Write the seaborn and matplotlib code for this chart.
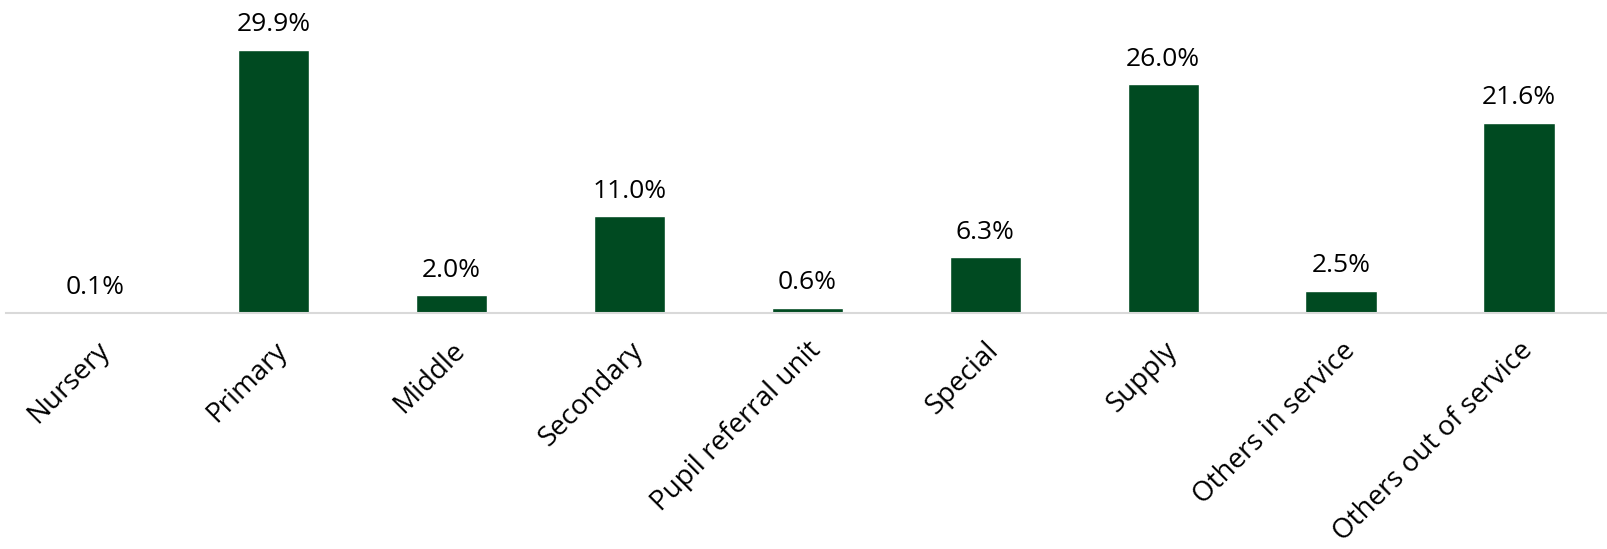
import matplotlib
matplotlib.use("Agg")
import matplotlib.pyplot as plt
import seaborn as sns
import pandas as pd

#categories and their shares (%)
categories = ['Nursery', 'Primary', 'Middle', 'Secondary', 'Pupil referral unit',
              'Special', 'Supply', 'Others in service', 'Others out of service']
values = [0.1, 29.9, 2.0, 11.0, 0.6, 6.3, 26.0, 2.5, 21.6]

df = pd.DataFrame({'category': categories, 'value': values})

sns.set_style("white")
plt.rcParams['font.family'] = ['Open Sans', 'DejaVu Sans']

fig = plt.figure(figsize=(16.08, 5.49), dpi=100)
ax = fig.add_axes([0.004, 0.43, 0.996, 0.481])

sns.barplot(data=df, x='category', y='value', color='#004a21', width=0.4,
            saturation=1, ax=ax)

#value labels above bars
for i, v in enumerate(values):
    ax.annotate('{:.1f}%'.format(v), (i, v), xytext=(0, 9), textcoords='offset points',
                ha='center', va='bottom', fontsize=19, color='black')

ax.set_ylim(0, 30)
ax.set_xlim(-0.5, len(categories) - 0.5)
ax.set_xlabel('')
ax.set_ylabel('')
ax.set_yticks([])
for s in ['top', 'right', 'left']:
    ax.spines[s].set_visible(False)
ax.spines['bottom'].set_color('#d9d9d9')
ax.spines['bottom'].set_linewidth(1.5)
ax.tick_params(axis='x', length=0, pad=17)
plt.setp(ax.get_xticklabels(), rotation=45, ha='right', rotation_mode='anchor',
         fontsize=20, color='black')

fig.savefig('out.png', dpi=100)
